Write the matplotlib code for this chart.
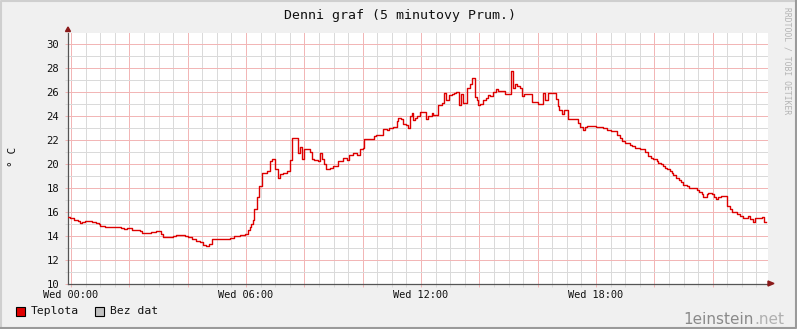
"""
 rrdtool style daily temperature graph
"""
import matplotlib
matplotlib.use('Agg')
import matplotlib.pyplot as plt
from matplotlib.patches import Polygon, Rectangle
from matplotlib.lines import Line2D

# change points of the 5 minute average, time in hours since Wed 00:00
t_hours = [
    -0.10, -0.02, 0.09, 0.23, 0.32, 0.38, 0.49, 0.72, 0.84, 0.95,
    1.01, 1.18, 1.70, 1.82, 1.93, 2.10, 2.37, 2.45, 2.74, 2.91,
    3.10, 3.17, 3.31, 3.48, 3.60, 3.77, 3.91, 4.02, 4.14, 4.27,
    4.42, 4.53, 4.64, 4.72, 4.84, 4.95, 5.18, 5.32, 5.44, 5.58,
    5.69, 5.81, 5.97, 6.06, 6.12, 6.17, 6.23, 6.28, 6.37, 6.45,
    6.56, 6.71, 6.82, 6.90, 6.98, 7.11, 7.16, 7.28, 7.39, 7.50,
    7.58, 7.77, 7.85, 7.93, 8.00, 8.19, 8.27, 8.34, 8.48, 8.54,
    8.59, 8.67, 8.74, 8.88, 8.99, 9.16, 9.34, 9.45, 9.54, 9.68,
    9.79, 9.91, 10.02, 10.06, 10.40, 10.45, 10.59, 10.68, 10.82, 10.91,
    11.03, 11.16, 11.22, 11.30, 11.39, 11.48, 11.56, 11.62, 11.68, 11.74,
    11.79, 11.85, 11.96, 12.17, 12.25, 12.36, 12.42, 12.59, 12.73, 12.79,
    12.86, 12.96, 13.05, 13.13, 13.20, 13.29, 13.36, 13.45, 13.59, 13.68,
    13.76, 13.85, 13.91, 13.96, 14.02, 14.14, 14.23, 14.31, 14.36, 14.48,
    14.57, 14.65, 14.88, 15.07, 15.16, 15.22, 15.30, 15.39, 15.45, 15.53,
    15.79, 16.02, 16.17, 16.25, 16.36, 16.62, 16.68, 16.74, 16.82, 16.91,
    17.05, 17.39, 17.45, 17.56, 17.62, 17.68, 18.00, 18.25, 18.36, 18.51,
    18.71, 18.82, 18.90, 18.99, 19.16, 19.22, 19.34, 19.51, 19.68, 19.79,
    19.87, 19.94, 20.08, 20.13, 20.21, 20.28, 20.36, 20.44, 20.53, 20.59,
    20.65, 20.74, 20.85, 20.91, 20.99, 21.11, 21.20, 21.45, 21.54, 21.62,
    21.65, 21.79, 21.85, 21.99, 22.04, 22.11, 22.19, 22.27, 22.50, 22.59,
    22.65, 22.82, 22.93, 23.05, 23.22, 23.28, 23.39, 23.45, 23.56, 23.68,
    23.76, 23.83,
]
teplota = [
    15.56, 15.48, 15.32, 15.20, 15.04, 15.15, 15.20, 15.12, 15.04, 14.93,
    14.77, 14.71, 14.60, 14.55, 14.60, 14.50, 14.38, 14.25, 14.30, 14.35,
    14.10, 13.85, 13.90, 14.00, 14.08, 14.03, 13.94, 13.86, 13.72, 13.56,
    13.42, 13.25, 13.14, 13.30, 13.67, 13.75, 13.69, 13.75, 13.83, 13.94,
    14.00, 14.08, 14.14, 14.50, 14.75, 14.94, 15.28, 16.25, 17.25, 18.14,
    19.25, 19.36, 20.25, 20.39, 19.56, 18.83, 19.14, 19.19, 19.36, 20.31,
    22.10, 20.90, 21.40, 20.36, 21.17, 21.00, 20.40, 20.30, 20.20, 20.90,
    20.40, 19.98, 19.55, 19.60, 19.80, 20.20, 20.50, 20.30, 20.70, 20.90,
    20.70, 21.20, 21.30, 22.05, 22.30, 22.40, 22.40, 22.90, 22.83, 23.00,
    23.05, 23.56, 23.83, 23.72, 23.33, 23.20, 23.00, 23.94, 24.25, 23.60,
    23.83, 23.94, 24.30, 23.67, 24.00, 24.20, 24.05, 24.86, 25.05, 25.90,
    25.30, 25.70, 25.80, 25.90, 25.97, 24.90, 25.78, 25.05, 26.30, 26.60,
    27.14, 25.55, 25.30, 24.86, 24.94, 25.28, 25.50, 25.70, 25.60, 25.97,
    26.20, 26.03, 25.78, 27.72, 26.30, 26.60, 26.50, 26.30, 25.60, 25.78,
    25.14, 25.00, 25.90, 25.33, 25.85, 25.34, 24.78, 24.50, 24.15, 24.45,
    23.73, 23.40, 23.05, 22.77, 23.05, 23.10, 23.05, 23.00, 22.77, 22.69,
    22.40, 22.13, 21.86, 21.75, 21.58, 21.44, 21.33, 21.25, 20.97, 20.64,
    20.50, 20.36, 20.22, 20.08, 19.94, 19.78, 19.64, 19.53, 19.39, 19.25,
    19.03, 18.83, 18.64, 18.42, 18.25, 18.11, 18.00, 17.83, 17.64, 17.44,
    17.22, 17.42, 17.56, 17.45, 17.19, 17.08, 17.20, 17.30, 16.44, 16.25,
    15.97, 15.80, 15.64, 15.47, 15.61, 15.36, 15.14, 15.47, 15.42, 15.53,
    15.14, 15.14,
]

x_major = [0, 2, 4, 6, 8, 10, 12, 14, 16, 18, 20, 22]
x_labels = ['Wed 00:00', '', '', 'Wed 06:00', '', '', 'Wed 12:00', '', '',
            'Wed 18:00', '', '']
x_minor = [h / 2 for h in range(0, 48) if h % 4]
y_major = [10, 12, 14, 16, 18, 20, 22, 24, 26, 28, 30]
y_minor = [v for v in range(10, 31) if v % 2]

W, H = 797, 329
fig = plt.figure(figsize=(W / 100, H / 100), dpi=100, facecolor='#f0f0f0')
mono = 'DejaVu Sans Mono'

# plot area in pixels (12 px per degree)
px_l, px_r, px_t, px_b = 68, 768, 32.5, 283.5
ax = fig.add_axes([px_l / W, (H - px_b) / H, (px_r - px_l) / W,
                   (px_b - px_t) / H])
ax.set_facecolor('white')
ax.set_xlim(-0.103, 23.895)
ax.set_ylim(10, 10 + (px_b - px_t) / 12)

ax.set_xticks(x_major)
ax.set_xticklabels(x_labels)
ax.set_xticks(x_minor, minor=True)
ax.set_yticks(y_major)
ax.set_yticklabels([str(v) for v in y_major])
ax.set_yticks(y_minor, minor=True)

grid_minor = '#dadada'
grid_major = '#f2b6b6'
ax.tick_params(which='both', direction='out', length=2, width=0.72)
ax.tick_params(which='minor', color=grid_minor)
ax.tick_params(which='major', color=grid_major)
ax.tick_params(axis='x', which='major', pad=2.5, labelsize=7.4)
ax.tick_params(axis='y', which='major', pad=4.2, labelsize=7.6)
ax.xaxis.grid(True, which='minor', color=grid_minor, lw=0.72)
ax.yaxis.grid(True, which='minor', color=grid_minor, lw=0.72)
ax.xaxis.grid(True, which='major', color=grid_major, lw=0.72)
ax.yaxis.grid(True, which='major', color=grid_major, lw=0.72)
ax.set_axisbelow(True)
for lab in ax.get_xticklabels() + ax.get_yticklabels():
    lab.set_family(mono)
    lab.set_color('#111111')

for s in ['top', 'right']:
    ax.spines[s].set_visible(False)
for s in ['left', 'bottom']:
    ax.spines[s].set_color('#555555')
    ax.spines[s].set_linewidth(0.9)

# the data line
ax.step(t_hours, teplota, where='post', color='#dd0000', lw=1.0, zorder=3)

# axis arrows (axes fraction coordinates)
dx = 1 / (px_r - px_l)
dy = 1 / (px_b - px_t)
ax.add_patch(Polygon([[-2.5 * dx, 1 + 1 * dy], [2.5 * dx, 1 + 1 * dy],
                      [0, 1 + 5.5 * dy]], closed=True, transform=ax.transAxes,
                     color='#8b1a1a', clip_on=False, zorder=5))
ax.add_patch(Polygon([[1, -2.5 * dy], [1, 2.5 * dy], [1 + 6 * dx, 0]],
                     closed=True, transform=ax.transAxes, color='#8b1a1a',
                     clip_on=False, zorder=5))

# title and axis label
fig.text(400 / W, 1 - 16 / H, 'Denni graf (5 minutovy Prum.)', family=mono,
         fontsize=9.5, ha='center', va='center', color='#111111')
fig.text(12.5 / W, 1 - 157 / H, '° C', family=mono, fontsize=8,
         rotation=90, ha='center', va='center', color='#111111')
fig.text(787 / W, 1 - 7 / H, 'RRDTOOL / TOBI OETIKER', family=mono,
         fontsize=5.8, rotation=270, ha='center', va='top', color='#b4b4b4')

# legend
fig.patches.append(Rectangle((16 / W, 1 - 316 / H), 9 / W, 9 / H,
                             transform=fig.transFigure, facecolor='#e00000',
                             edgecolor='black', lw=0.8))
fig.text(31 / W, 1 - 311.5 / H, 'Teplota', family=mono, fontsize=8.2,
         ha='left', va='center', color='#111111')
fig.patches.append(Rectangle((95 / W, 1 - 316 / H), 9 / W, 9 / H,
                             transform=fig.transFigure, facecolor='#c0c0c0',
                             edgecolor='black', lw=0.8))
fig.text(109.5 / W, 1 - 311.5 / H, 'Bez dat', family=mono, fontsize=8.2,
         ha='left', va='center', color='#111111')

# watermark
fig.text(754 / W, 1 - 319 / H, '1einstein', fontsize=11, ha='right',
         va='center', color='#8a8a8a')
fig.text(754 / W, 1 - 319 / H, '.net', fontsize=11, ha='left',
         va='center', color='#b0b0b0')

# frame around the picture
fig.lines.append(Line2D([0.5 / W, 0.5 / W, 1 - 0.5 / W],
                        [0, 1 - 0.5 / H, 1 - 0.5 / H],
                        transform=fig.transFigure, color='#cfcfcf', lw=1.5))
fig.lines.append(Line2D([0, 1 - 1 / W, 1 - 1 / W],
                        [1 / H, 1 / H, 1], transform=fig.transFigure,
                        color='#9a9a9a', lw=1.5))

fig.savefig('out.png', dpi=100, facecolor=fig.get_facecolor())
